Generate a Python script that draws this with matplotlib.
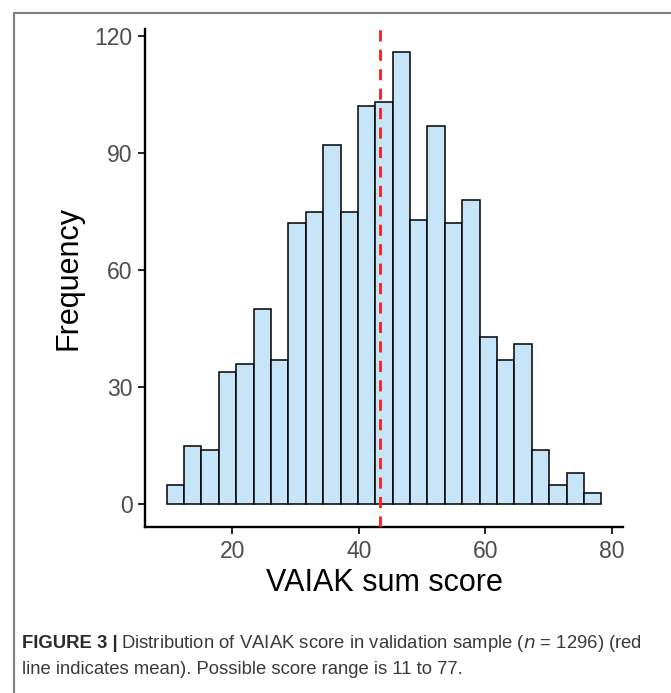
import matplotlib
matplotlib.use("Agg")
import matplotlib.pyplot as plt
from matplotlib.lines import Line2D
import numpy as np

plt.rcParams['font.family'] = ['Liberation Sans', 'DejaVu Sans']

# Histogram of VAIAK sum scores (25 bins over the 11-77 score range)
score_min = 11
score_max = 77
n_bins = 25
counts = [5, 15, 14, 34, 36, 50, 37, 72, 75, 92, 75, 102, 103, 116,
          73, 97, 72, 78, 43, 37, 41, 14, 5, 8, 3]
mean_score = 43.3

x_ticks = [20, 40, 60, 80]
y_ticks = [0, 30, 60, 90, 120]

bin_width = (score_max - score_min) / (n_bins - 1)
left_edges = score_min - bin_width / 2 + bin_width * np.arange(n_bins)

fig = plt.figure(figsize=(6.71, 6.93), dpi=100)
ax = fig.add_axes([0.216, 0.2395, 0.7125, 0.7185])

ax.bar(left_edges, counts, width=bin_width, align='edge',
       color='#c6e5f8', edgecolor='black', linewidth=1.1, zorder=2)
ax.axvline(mean_score, color='#ff1a1a', linewidth=2.0,
           linestyle=(0, (4, 3)), zorder=3)

lo, hi = left_edges[0], left_edges[-1] + bin_width
pad = 0.05 * (hi - lo)
ax.set_xlim(lo - pad, hi + pad)
ax.set_ylim(-0.05 * max(counts), max(counts) * 1.05)

ax.set_xticks(x_ticks)
ax.set_yticks(y_ticks)
ax.tick_params(axis='both', length=5, width=1.2, color='black',
               labelsize=16.5, labelcolor='#4d4d4d', pad=4)

for side in ['top', 'right']:
    ax.spines[side].set_visible(False)
for side in ['left', 'bottom']:
    ax.spines[side].set_linewidth(1.7)

ax.set_xlabel('VAIAK sum score', fontsize=22, labelpad=4)
ax.set_ylabel('Frequency', fontsize=22, labelpad=8)

# caption below the plot
cap_size = 13.3
fig_label = fig.text(0.033, 1 - 643 / 693, 'FIGURE 3 |', fontsize=cap_size,
                     fontweight='bold', color='#2a2a2a', va='center')
ax.annotate('Distribution of VAIAK score in validation sample ($n$ = 1296) (red',
            xy=(1, 0.5), xycoords=fig_label, xytext=(2, 0),
            textcoords='offset points', fontsize=cap_size, color='#3a3a3a',
            va='center', ha='left', annotation_clip=False)
fig.text(0.033, 1 - 670 / 693,
         'line indicates mean). Possible score range is 11 to 77.',
         fontsize=cap_size, color='#3a3a3a', va='center')

# frame lines along the top and left of the panel
fig.add_artist(Line2D([14 / 671, 1.0], [1 - 13 / 693, 1 - 13 / 693],
                      color='#808080', linewidth=1.5))
fig.add_artist(Line2D([14 / 671, 14 / 671], [0.0, 1 - 13 / 693],
                      color='#808080', linewidth=1.5))

fig.savefig('out.png', dpi=100)
